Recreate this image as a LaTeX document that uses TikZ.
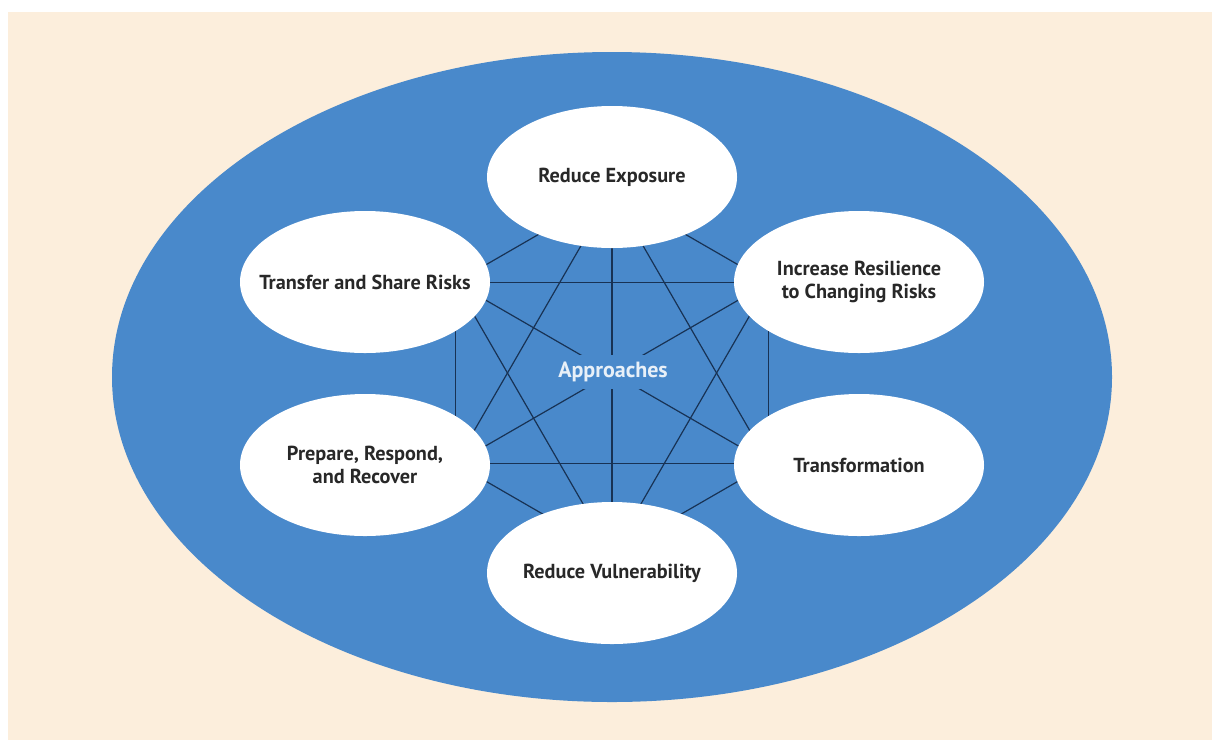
\documentclass[tikz,border=0pt]{standalone}
\usepackage{fontspec}
\setmainfont{PT Sans}
\usetikzlibrary{shapes.geometric}

\definecolor{peach}{RGB}{252,238,220}
\definecolor{ringblue}{RGB}{73,137,203}
\definecolor{linknavy}{RGB}{24,50,84}
\definecolor{labelgray}{RGB}{40,40,40}
\definecolor{hubtext}{RGB}{232,240,248}

\tikzset{every picture/.style={line width=0.75pt}}
\tikzset{
  bubble/.style={ellipse, fill=white, inner xsep=-40pt, inner ysep=0pt,
    minimum width=187.5pt, minimum height=106.5pt, align=center,
    text=labelgray, font=\bfseries\fontsize{15.2}{17.5}\selectfont},
  link/.style={color=linknavy, line width=0.9pt},
  hub/.style={fill=ringblue, text=hubtext, inner xsep=4pt, inner ysep=0pt,
    minimum height=25.5pt, font=\bfseries\fontsize{16.5}{18}\selectfont}
}

\begin{document}
\begin{tikzpicture}[x=0.75pt,y=0.75pt,yscale=-1,xscale=1]
\useasboundingbox (0,0) rectangle (1212,740);

%Shape: Rectangle
\fill [peach] (8,12) rectangle (1212,740);
%Shape: Ellipse
\fill [ringblue] (612,377) ellipse (500 and 325);

%hexagon corners behind the bubbles
\coordinate (pT) at (612,192);
\coordinate (pUR) at (768.8,282.5);
\coordinate (pLR) at (768.8,463.5);
\coordinate (pB) at (612,554);
\coordinate (pLL) at (455.2,463.5);
\coordinate (pUL) at (455.2,282.5);

%Straight Lines
\draw [link] (pT) -- (pUR);
%Straight Lines
\draw [link] (pT) -- (pLR);
%Straight Lines
\draw [link] (pT) -- (pB);
%Straight Lines
\draw [link] (pT) -- (pLL);
%Straight Lines
\draw [link] (pT) -- (pUL);
%Straight Lines
\draw [link] (pUR) -- (pLR);
%Straight Lines
\draw [link] (pUR) -- (pB);
%Straight Lines
\draw [link] (pUR) -- (pLL);
%Straight Lines
\draw [link] (pUR) -- (pUL);
%Straight Lines
\draw [link] (pLR) -- (pB);
%Straight Lines
\draw [link] (pLR) -- (pLL);
%Straight Lines
\draw [link] (pLR) -- (pUL);
%Straight Lines
\draw [link] (pB) -- (pLL);
%Straight Lines
\draw [link] (pB) -- (pUL);
%Straight Lines
\draw [link] (pLL) -- (pUL);

% Text Node
\node [bubble] (expo) at (612,177) {Reduce Exposure};
% Text Node
\node [bubble] (share) at (365,282) {Transfer and Share Risks};
% Text Node
\node [bubble] (resil) at (859,282) {Increase Resilience\\to Changing Risks};
% Text Node
\node [bubble] (prep) at (365,465) {Prepare, Respond,\\and Recover};
% Text Node
\node [bubble] (trans) at (859,465) {Transformation};
% Text Node
\node [bubble] (vuln) at (612,573) {Reduce Vulnerability};
% Text Node
\node [hub] (appr) at (613,372) {Approaches};

\end{tikzpicture}
\end{document}
